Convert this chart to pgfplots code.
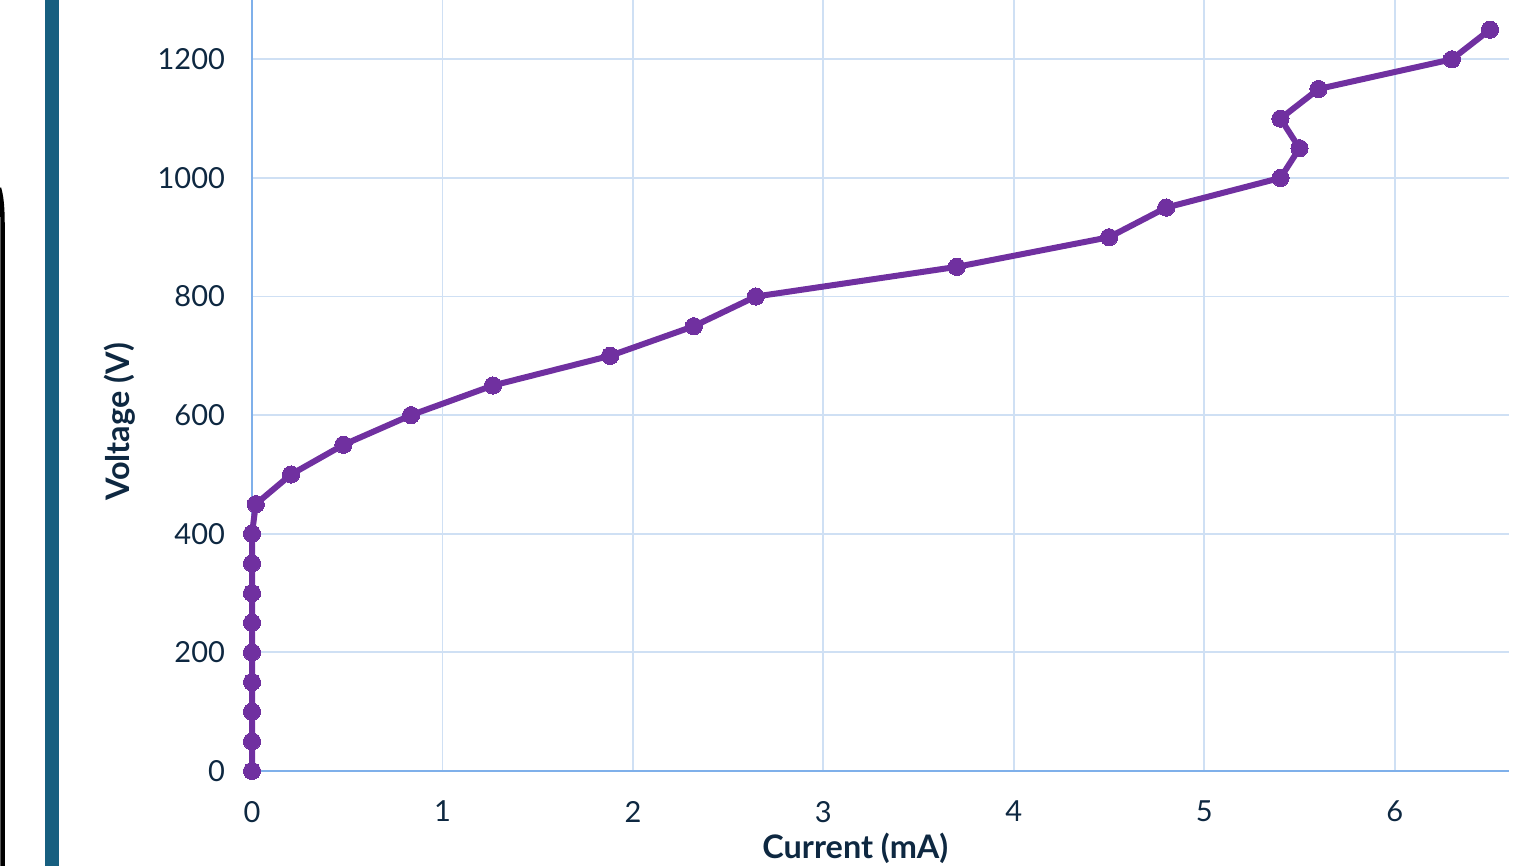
\documentclass[border=0pt]{standalone}
\usepackage{pgfplots}
\pgfplotsset{compat=1.18}
\usepackage{fontspec}
\setmainfont{Lato}
\definecolor{txt}{HTML}{0E2841}
\definecolor{gridc}{HTML}{CFE0F4}
\definecolor{axc}{HTML}{7FB0EA}
\definecolor{lineC}{HTML}{7030A0}
\definecolor{tealbar}{HTML}{175F80}
\begin{document}
\begin{tikzpicture}
\useasboundingbox (0,0) rectangle (759.5pt,433pt);
\fill[tealbar] (22.5pt,0) rectangle (29.5pt,433pt);
\draw[black, line width=2.2pt] (-0.5pt,339pt) .. controls (1.3pt,333pt) and (1.3pt,325pt) .. (1.3pt,315pt) -- (1.3pt,-1pt);
\begin{axis}[
  scale only axis,
  width=628.5pt, height=385.5pt,
  at={(126pt,47.5pt)}, anchor=south west,
  xmin=0, xmax=6.6, ymin=0, ymax=1300,
  xtick={0,1,2,3,4,5,6},
  ytick={0,200,400,600,800,1000,1200},
  major tick length=0pt,
  grid=major,
  major grid style={gridc, line width=0.9pt},
  axis x line*=bottom, axis y line*=left,
  axis line style={axc, line width=1pt, -},
  /pgf/number format/assume math mode=true,
  /pgf/number format/1000 sep={},
  tick label style={font=\fontsize{14.5}{17}\selectfont, text=txt},
  xticklabel style={anchor=north, yshift=-11.5pt},
  yticklabel style={anchor=east, xshift=-10pt},
  label style={font=\bfseries\fontsize{16.2}{19}\selectfont, text=txt},
  xlabel={Current (mA)},
  ylabel={Voltage (V)},
  xlabel style={at={(axis description cs:0.48,-0.1)}, anchor=center},
  ylabel style={at={(axis description cs:-0.105,0.453)}, anchor=center, rotate=0},
  clip=false,
]
\addplot[lineC, line width=3pt, mark=*, mark size=4.3pt, mark options={fill=lineC, draw=lineC, line width=0pt}] coordinates {
(0,0) (0,50) (0,100) (0,150) (0,200) (0,250) (0,300) (0,350) (0,400)
(0.02,450) (0.205,500) (0.48,550) (0.835,600) (1.265,650) (1.88,700)
(2.32,750) (2.645,800) (3.70,850) (4.5,900) (4.8,950) (5.40,1000)
(5.50,1050) (5.40,1100) (5.60,1150) (6.30,1200) (6.50,1250)
};
\end{axis}
\end{tikzpicture}
\end{document}
